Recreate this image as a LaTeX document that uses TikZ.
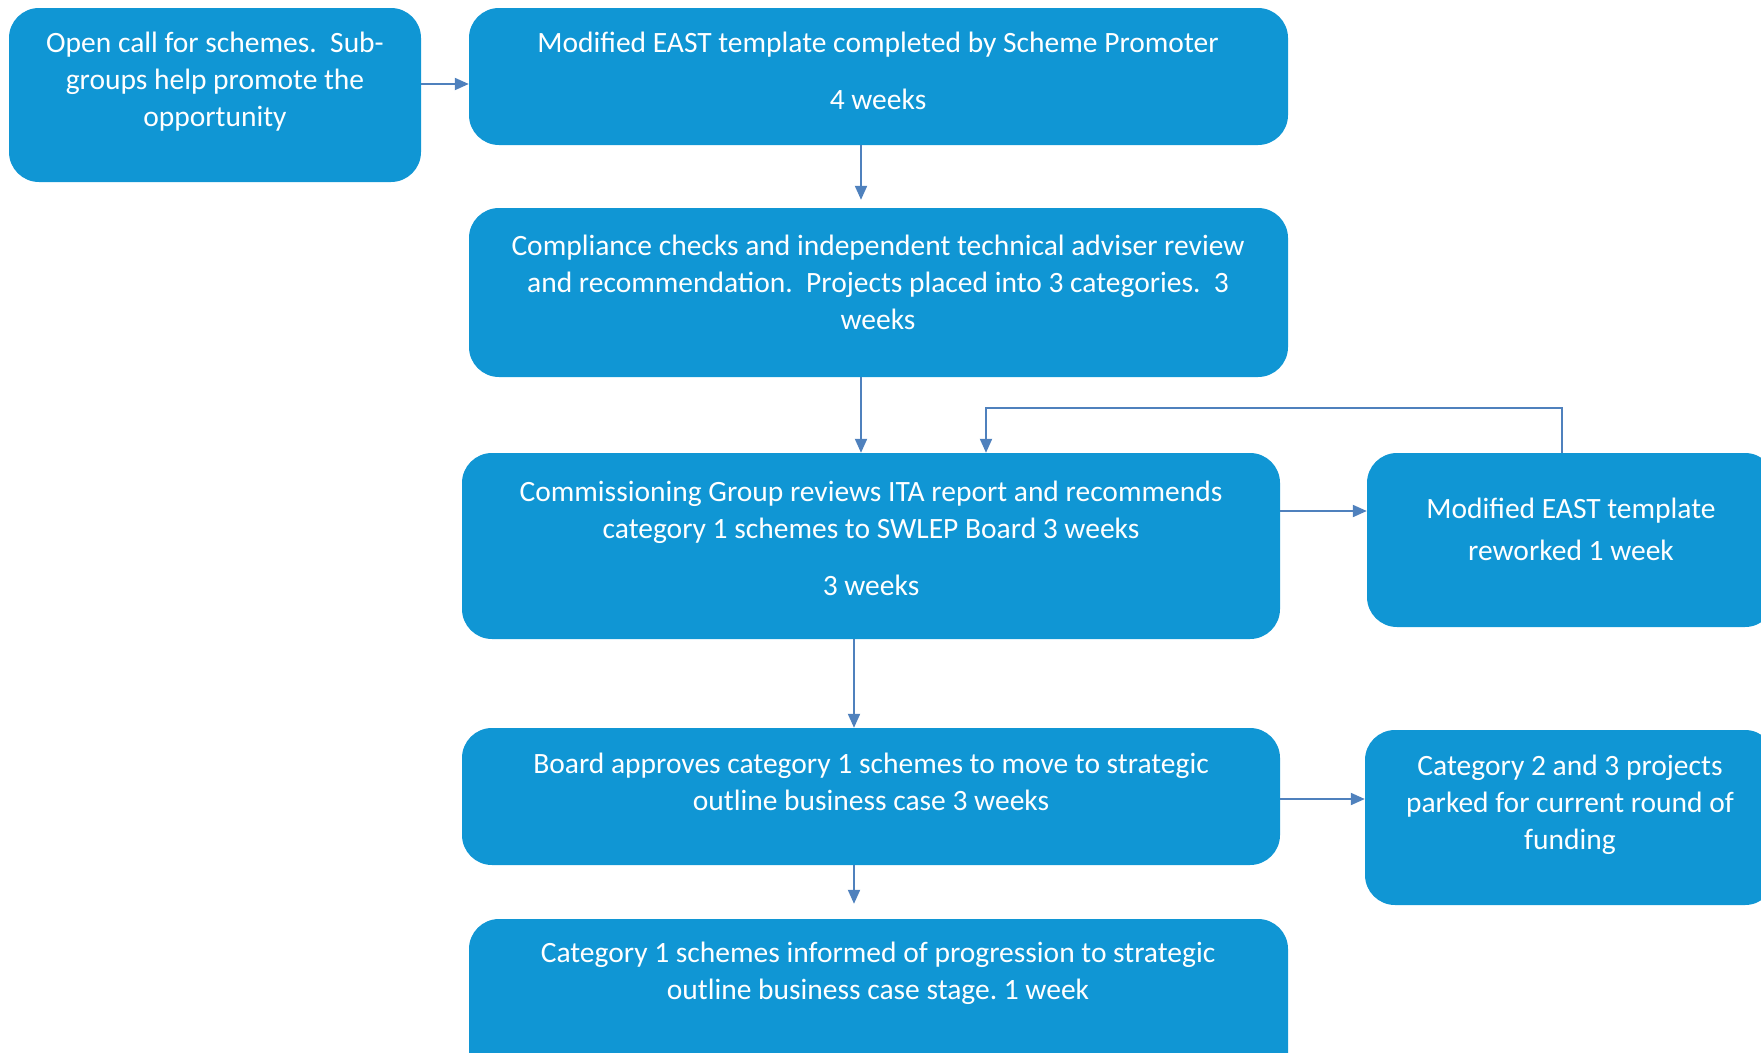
\documentclass[tikz,border=0pt]{standalone}
\usepackage{fontspec}
\setmainfont{Carlito}
\frenchspacing
\usetikzlibrary{arrows.meta,positioning}
\definecolor{boxblue}{RGB}{16,150,212}
\definecolor{linkblue}{RGB}{79,129,189}
\tikzset{
  stage/.style={fill=boxblue, rounded corners=30pt, inner sep=0pt},
  stagetext/.style={text=white, align=center, inner sep=0pt,
    font=\fontsize{29.5}{37}\selectfont},
  link/.style={draw=linkblue, line width=2pt, -{Triangle[length=14pt,width=12pt]}}
}
\begin{document}
\begin{tikzpicture}[x=1pt,y=-1pt]
\clip (0,0) rectangle (1761,1052);
% boxes: name/centre x/centre y/width/height
\foreach \n/\x/\y/\w/\h in {call/215/95/412/174, template/878.5/76.5/819/137,
    check/878.5/292.5/819/169, review/871/546/818/186, rework/1571/540/408/174,
    approve/871/796.5/818/137, park/1570/817.5/410/175, inform/878.5/1009/819/180}
  \node[stage, minimum width=\w pt, minimum height=\h pt] (\n) at (\x,\y) {};
% texts
\node[stagetext] (calltext) at (215,82) {Open call for schemes.\ \ Sub-\\groups help promote the\\opportunity};
\node[stagetext] (templatetext) at (878,71) {Modified EAST template completed by Scheme Promoter\\[20pt]4 weeks};
\node[stagetext] (checktext) at (878,282) {Compliance checks and independent technical adviser review\\and recommendation.\ \ Projects placed into 3 categories.\ \ 3\\weeks};
\node[stagetext] (reviewtext) at (871,538) {Commissioning Group reviews ITA report and recommends\\category 1 schemes to SWLEP Board 3 weeks\\[20pt]3 weeks};
\node[stagetext] (reworktext) at (1571,529) {Modified EAST template\\[5pt]reworked 1 week};
\node[stagetext] (approvetext) at (871,782) {Board approves category 1 schemes to move to strategic\\outline business case 3 weeks};
\node[stagetext] (parktext) at (1570,805) {Category 2 and 3 projects\\parked for current round of\\funding};
\node[stagetext] (informtext) at (878,973) {Category 1 schemes informed of progression to strategic\\outline business case stage. 1 week};
% links
\draw[link] ([yshift=11pt]call.east) -- ([yshift=-7.5pt]template.west);
\draw[link] ([xshift=-17.5pt]template.south) -- ([xshift=-17.5pt,yshift=8pt]check.north);
\draw[link] ([xshift=-17.5pt]check.south) -- ([xshift=-10pt]review.north);
\draw[link] ([xshift=-9pt]rework.north) -- ++(0,-45) -| ([xshift=115pt]review.north);
\draw[link] ([yshift=35pt]review.east) -- ([yshift=29pt]rework.west);
\draw[link] ([xshift=-17pt]review.south) -- ([xshift=-17pt]approve.north);
\draw[link] ([yshift=-2.5pt]approve.east) -- ([yshift=18.5pt]park.west);
\draw[link] ([xshift=-17pt]approve.south) -- ([xshift=-24.5pt,yshift=15pt]inform.north);
\end{tikzpicture}
\end{document}
